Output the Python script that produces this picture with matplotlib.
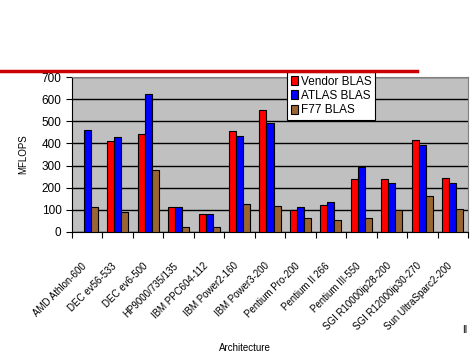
import matplotlib.pyplot as plt
import matplotlib.transforms as mtransforms
import numpy as np

archs = ["AMD Athlon-600", "DEC ev56-533", "DEC ev6-500", "HP9000/735/135",
         "IBM PPC604-112", "IBM Power2-160", "IBM Power3-200", "Pentium Pro-200",
         "Pentium II 266", "Pentium III-550", "SGI R10000ip28-200",
         "SGI R12000ip30-270", "Sun UltraSparc2-200"]
vendor = [0, 410, 445, 110, 80, 455, 550, 100, 120, 240, 240, 415, 245]
atlas = [460, 430, 625, 110, 80, 435, 495, 110, 135, 295, 220, 395, 220]
f77 = [110, 90, 280, 20, 20, 125, 115, 60, 55, 60, 100, 160, 105]

plt.rcParams['font.family'] = ['Liberation Sans Narrow', 'Liberation Sans', 'DejaVu Sans']

fig = plt.figure(figsize=(4.75, 3.56), dpi=100)
ax = fig.add_axes([72/475, 1 - 231.7/356, 396/475, 154.4/356])
ax.set_facecolor('#C0C0C0')

x = np.arange(len(archs))
w = 0.23
ax.bar(x - w, vendor, w, color='#FF0000', edgecolor='black', linewidth=0.8, label='Vendor BLAS', zorder=3)
ax.bar(x, atlas, w, color='#0000FF', edgecolor='black', linewidth=0.8, label='ATLAS BLAS', zorder=3)
ax.bar(x + w, f77, w, color='#996633', edgecolor='black', linewidth=0.8, label='F77 BLAS', zorder=3)

ax.set_xlim(-0.5, len(archs) - 0.5)
ax.set_ylim(0, 700)
ax.set_yticks(range(0, 701, 100))
ax.yaxis.grid(True, color='black', linewidth=1, zorder=1)
ax.set_axisbelow(True)

ax.set_xticks(np.arange(-0.5, len(archs), 1))
ax.set_xticklabels([])
ax.set_xticks(x, minor=True)
ax.set_xticklabels(archs, minor=True, rotation=45, ha='right', rotation_mode='anchor', fontsize=7)
ax.tick_params(axis='x', which='minor', length=0, pad=21)
ax.tick_params(axis='x', which='major', length=4, direction='out')
ax.tick_params(axis='y', length=4, labelsize=8.5)
shift = mtransforms.ScaledTranslation(-6/100, 0, fig.dpi_scale_trans)
for lbl in ax.get_xticklabels(minor=True):
    lbl.set_transform(lbl.get_transform() + shift)

for s in ['top', 'right']:
    ax.spines[s].set_color('#808080')
ax.spines['left'].set_color('black')
ax.spines['bottom'].set_color('black')

ax.set_ylabel('MFLOPS', fontsize=7)
ax.yaxis.set_label_coords(-0.11, 0.5)
fig.text(245/475, 1 - 348/356, 'Architecture', fontsize=7, ha='center', va='center')
fig.text(465/475, 1 - 330/356, 'II', fontsize=7, ha='center', va='center')

fig.add_artist(plt.Line2D([0, 417/475], [1 - 71/356, 1 - 71/356], color='#CC0000', linewidth=2.5))

leg = ax.legend(loc='upper left', bbox_to_anchor=(287/475, 1 - 72/356), bbox_transform=fig.transFigure,
                fontsize=8.5, frameon=True, fancybox=False, edgecolor='black', framealpha=1,
                handlelength=0.6, handleheight=0.8, handletextpad=0.3, borderpad=0.3, labelspacing=0.2,
                borderaxespad=0)
leg.get_frame().set_linewidth(0.8)

fig.savefig('out.png', dpi=100)
